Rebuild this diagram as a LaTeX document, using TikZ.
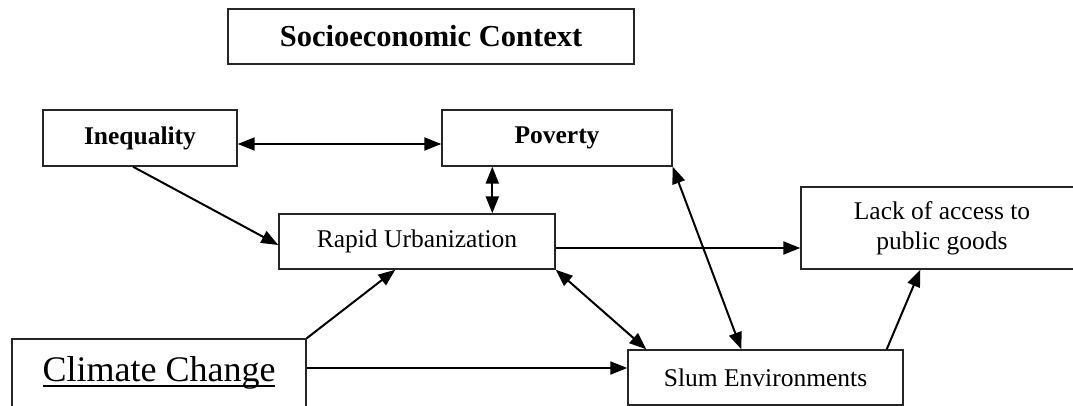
\documentclass[tikz,border=0pt]{standalone}
\usepackage{fontspec}
\setmainfont{Liberation Serif}
\usetikzlibrary{arrows.meta}
\usetikzlibrary{positioning}
\newcommand{\ulinetext}[1]{\setbox0\hbox{#1}\rlap{\rule[-5pt]{\wd0}{1.3pt}}\box0}

\begin{document}
\begin{tikzpicture}[x=1pt, y=-1pt,
  every node/.style={draw=black!85, line width=1.4pt, rectangle, align=center, inner sep=0pt, font=\fontsize{25.5}{30}\selectfont},
  arr/.style={line width=2pt, -{Triangle[length=17pt,width=13pt]}},
  darr/.style={line width=2pt, {Triangle[length=17pt,width=13pt]}-{Triangle[length=17pt,width=13pt]}}]
\clip (0,0) rectangle (1073,406);
\node[minimum width=406pt, minimum height=55pt, font=\fontsize{30.5}{34}\selectfont\bfseries] (socio) at (431,36.5) {Socioeconomic Context};
\node[minimum width=194pt, minimum height=56pt, font=\fontsize{25.5}{30}\selectfont\bfseries] (ineq) at (140,138) {Inequality};
\node[minimum width=230pt, minimum height=56pt, font=\fontsize{25.5}{30}\selectfont\bfseries] (pov) at (557,138) {Poverty};
\node[minimum width=276pt, minimum height=55pt] (rapid) at (417,241.5) {Rapid Urbanization};
\node[minimum width=282pt, minimum height=82pt] (lack) at (942,228) {Lack of access to\\public goods};
\node[minimum width=294pt, minimum height=68pt, font=\fontsize{36}{40}\selectfont] (climate) at (159,373) {\ulinetext{Climate Change}};
\node[minimum width=275pt, minimum height=55pt] (slum) at (765.5,377.5) {Slum Environments};
\draw[darr] ([yshift=-6pt]ineq.east) -- ([yshift=-6pt]pov.west);
\draw[arr] ([xshift=-7pt]ineq.south) -- ([yshift=-3.5pt]rapid.west);
\draw[darr] ([xshift=51pt]pov.south west) -- ([xshift=51pt]pov.south west |- rapid.north);
\draw[arr] ([yshift=-6.5pt]rapid.east) -- ([yshift=-6.5pt]rapid.east -| lack.west);
\draw[darr] (rapid.south east) -- ([xshift=19pt]slum.north west);
\draw[darr] (pov.south east) -- ([xshift=114pt]slum.north west);
\draw[arr] (climate.north east) -- ([xshift=117pt]rapid.south west);
\draw[arr] ([yshift=5pt]climate.east) -- ([yshift=5pt]climate.east -| slum.west);
\draw[arr] ([xshift=-17pt]slum.north east) -- ([xshift=120pt]lack.south west);
\end{tikzpicture}
\end{document}
